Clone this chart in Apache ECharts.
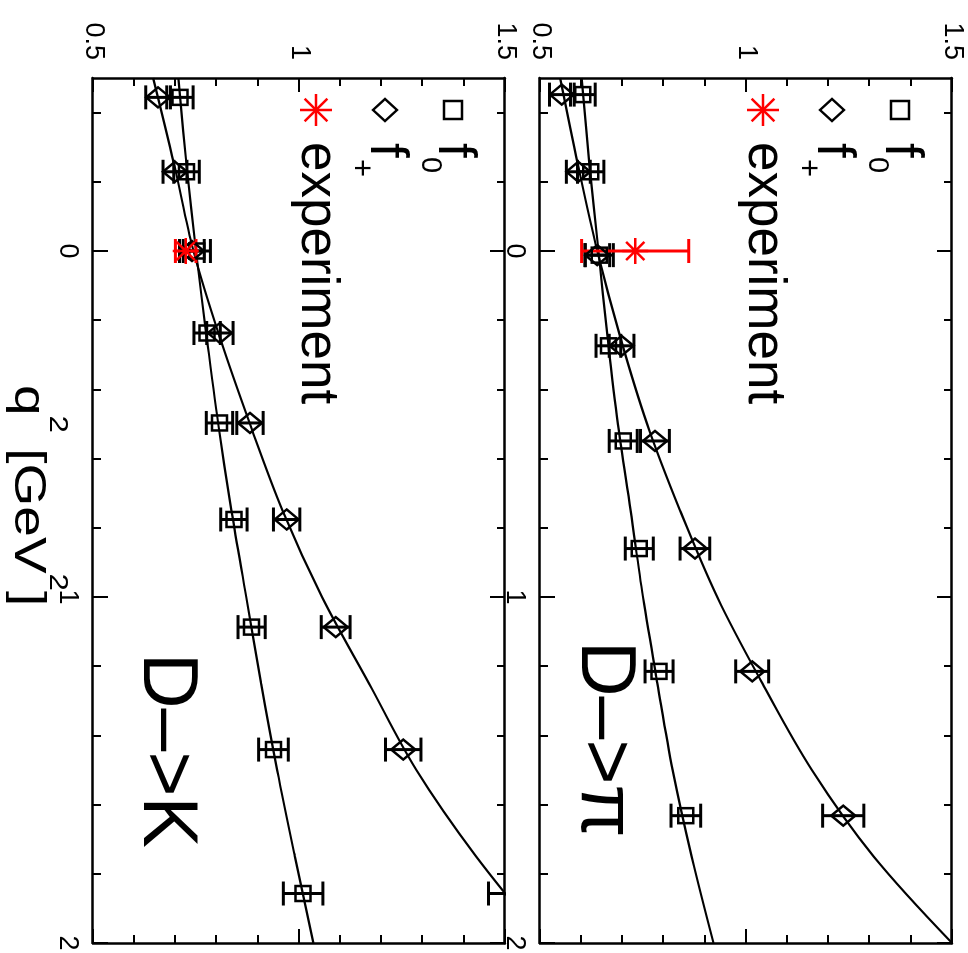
<!DOCTYPE html>
<html>
<head>
<meta charset="utf-8">
<script src="https://cdn.jsdelivr.net/npm/echarts@6/dist/echarts.min.js"></script>
<style>
  html, body { margin: 0; padding: 0; background: #fff; overflow: hidden; }
  /* the figure is a landscape page, turned a quarter clockwise */
  #chart {
    position: absolute; left: 0; top: 0;
    width: 953px; height: 968px;
    transform-origin: 0 0;
    transform: translate(968px, 0) rotate(90deg);
  }
</style>
</head>
<body>
<div id="chart"></div>
<script>
// ---- D -> pi (q^2 in GeV^2) ----
const qPi = [-0.452, -0.229, 0.012, 0.274, 0.549, 0.860, 1.215, 1.632];
const f0Pi = [0.604, 0.623, 0.644, 0.666, 0.702, 0.741, 0.789, 0.854];
const f0PiErr = [0.030, 0.032, 0.034, 0.030, 0.034, 0.034, 0.034, 0.036];
const fpPi = [0.553, 0.593, 0.639, 0.698, 0.779, 0.876, 1.015, 1.236];
const fpPiErr = [0.030, 0.029, 0.030, 0.030, 0.035, 0.036, 0.040, 0.050];
const expPi = [0.731];
const expPiErr = [0.130];

// ---- D -> K ----
const qK = [-0.444, -0.229, 0.0, 0.237, 0.497, 0.776, 1.087, 1.441, 1.857];
const f0K = [0.711, 0.727, 0.752, 0.777, 0.807, 0.842, 0.885, 0.938, 1.010];
const f0KErr = [0.032, 0.031, 0.033, 0.032, 0.032, 0.032, 0.033, 0.036, 0.048];
const fpK = [0.658, 0.699, 0.740, 0.808, 0.881, 0.970, 1.089, 1.253, 1.520];
const fpKErr = [0.030, 0.029, 0.030, 0.032, 0.032, 0.032, 0.035, 0.043, 0.060];
const expK = [0.725];
const expKErr = [0.025];

const qExp = [0];

const qCurve = [-0.5, -0.25, 0, 0.25, 0.5, 0.75, 1.0, 1.25, 1.5, 1.75, 2.0];
const f0PiCurve = [0.601, 0.620, 0.642, 0.664, 0.689, 0.720, 0.750, 0.785, 0.822, 0.868, 0.921];
const fpPiCurve = [0.549, 0.592, 0.639, 0.695, 0.760, 0.840, 0.930, 1.040, 1.160, 1.310, 1.500];
const f0KCurve = [0.707, 0.727, 0.750, 0.776, 0.804, 0.836, 0.872, 0.908, 0.947, 0.990, 1.035];
const fpKCurve = [0.646, 0.697, 0.744, 0.808, 0.881, 0.960, 1.056, 1.170, 1.285, 1.430, 1.600];

// axis ticks
const qTicks = [-0.4, -0.2, 0, 0.2, 0.4, 0.6, 0.8, 1, 1.2, 1.4, 1.6, 1.8, 2];
const qLabels = [0, 1, 2];

const FONT = "'Liberation Sans', Arial, Helvetica, sans-serif";
const BLACK = '#000';
const RED = '#ff0000';
const LW = 2.5;
const panelTops = [16, 463];
const GRID_LEFT = 78;

const ASTERISK = 'path://M10 0L10 20M0 10L20 10M3 3L17 17M3 17L17 3';

const chart = echarts.init(document.getElementById('chart'));

function qAxes(g) {
  const base = {
    gridIndex: g, type: 'value', min: -0.5, max: 2,
    splitLine: { show: false }
  };
  const tick = (vals, len) => ({
    show: true, inside: true, length: len, customValues: vals,
    lineStyle: { color: BLACK, width: 2 }
  });
  const axisLine = { show: true, onZero: false, lineStyle: { color: BLACK, width: LW } };
  return [
    {
      ...base, position: 'bottom', axisLine, axisTick: tick(qTicks, 8),
      axisLabel: {
        show: true, customValues: qLabels, color: BLACK,
        fontSize: 27, fontFamily: FONT, margin: 12
      }
    },
    { ...base, position: 'bottom', axisLine: { show: false }, axisTick: tick(qLabels, 15), axisLabel: { show: false } },
    { ...base, position: 'top', axisLine, axisTick: tick(qTicks, 8), axisLabel: { show: false } },
    { ...base, position: 'top', axisLine: { show: false }, axisTick: tick(qLabels, 15), axisLabel: { show: false } }
  ];
}

function fAxes(g) {
  const lineStyle = { color: BLACK, width: 2 };
  const base = {
    gridIndex: g, type: 'value', min: 0.5, max: 1.5, interval: 0.5,
    splitLine: { show: false },
    axisLine: { show: true, onZero: false, lineStyle: { color: BLACK, width: LW } },
    axisTick: { show: true, inside: true, length: 14, lineStyle },
    minorTick: { show: true, splitNumber: 5, length: 8, lineStyle },
    minorSplitLine: { show: false }
  };
  return [
    {
      ...base, position: 'left',
      axisLabel: { show: true, color: BLACK, fontSize: 27, fontFamily: FONT, margin: 18 }
    },
    { ...base, position: 'right', axisLabel: { show: false } }
  ];
}

function errorBars(g, q, f, err, color) {
  return {
    type: 'custom',
    xAxisIndex: g * 4, yAxisIndex: g * 2,
    clip: true,
    z: 3,
    data: q.map((x, i) => [x, f[i] - err[i], f[i] + err[i]]),
    encode: { x: 0, y: [1, 2] },
    renderItem(params, api) {
      const lo = api.coord([api.value(0), api.value(1)]);
      const hi = api.coord([api.value(0), api.value(2)]);
      const w = 12;
      const style = { stroke: color, lineWidth: 3, fill: 'none' };
      return {
        type: 'group',
        children: [
          { type: 'line', shape: { x1: lo[0], y1: lo[1], x2: hi[0], y2: hi[1] }, style },
          { type: 'line', shape: { x1: lo[0] - w, y1: lo[1], x2: lo[0] + w, y2: lo[1] }, style },
          { type: 'line', shape: { x1: hi[0] - w, y1: hi[1], x2: hi[0] + w, y2: hi[1] }, style }
        ]
      };
    }
  };
}

function curve(g, q, f) {
  return {
    type: 'line', xAxisIndex: g * 4, yAxisIndex: g * 2,
    data: q.map((x, i) => [x, f[i]]),
    smooth: 0.35, showSymbol: false, symbol: 'none', clip: true,
    lineStyle: { color: BLACK, width: 2.2 }, z: 2
  };
}

function points(g, q, f, symbol, size, color) {
  return {
    type: 'scatter', xAxisIndex: g * 4, yAxisIndex: g * 2,
    data: q.map((x, i) => [x, f[i]]),
    symbol, symbolSize: size, clip: true, z: 4,
    itemStyle: { color: 'rgba(0,0,0,0)', borderColor: color, borderWidth: LW, opacity: 1 }
  };
}

function panelSeries(g, d) {
  return [
    curve(g, qCurve, d.f0Curve),
    curve(g, qCurve, d.fpCurve),
    errorBars(g, d.q, d.f0, d.f0Err, BLACK),
    errorBars(g, d.q, d.fp, d.fpErr, BLACK),
    points(g, d.q, d.f0, 'rect', 15, BLACK),
    points(g, d.q, d.fp, 'diamond', [20, 24], BLACK),
    errorBars(g, qExp, d.exp, d.expErr, RED),
    points(g, qExp, d.exp, ASTERISK, 26, RED)
  ];
}

function txt(x, y, text, size, color) {
  return {
    type: 'text', x, y, silent: true,
    style: {
      text, fill: color || BLACK, font: size + 'px ' + FONT,
      align: 'left', textAlign: 'left', verticalAlign: 'middle', textVerticalAlign: 'middle'
    }
  };
}

function seg(x1, y1, x2, y2, color) {
  return { type: 'line', silent: true, shape: { x1, y1, x2, y2 }, style: { stroke: color, lineWidth: LW } };
}

// key in the upper left corner of a panel
function legendItems(T) {
  const mx = 110;
  const items = [];
  // f_0, open square
  items.push({ type: 'rect', silent: true, shape: { x: mx - 9, y: T + 52 - 9, width: 18, height: 18 },
    style: { fill: 'none', stroke: BLACK, lineWidth: LW } });
  items.push(txt(143, T + 51, 'f', 53));
  items.push(txt(157, T + 75, '0', 29));
  // f_+, open diamond
  const dy = T + 120;
  items.push({ type: 'polygon', silent: true, shape: { points: [[mx, dy - 12], [mx + 11, dy], [mx, dy + 12], [mx - 11, dy]] },
    style: { fill: 'none', stroke: BLACK, lineWidth: LW } });
  items.push(txt(143, T + 119, 'f', 53));
  items.push(txt(159, T + 144, '+', 31));
  // experiment, red star
  const ay = T + 189, r = 16, s = 11.3;
  items.push(seg(mx, ay - r, mx, ay + r, RED), seg(mx - r, ay, mx + r, ay, RED),
    seg(mx - s, ay - s, mx + s, ay + s, RED), seg(mx - s, ay + s, mx + s, ay - s, RED));
  items.push(txt(142, T + 188, 'experiment', 53));
  return items;
}

const graphic = [
  ...legendItems(panelTops[0]),
  ...legendItems(panelTops[1]),
  txt(641, panelTops[0] + 349, 'D\u2013>\u03c0', 77),
  txt(653, panelTops[1] + 340, 'D\u2013>K', 77),
  {
    type: 'text', x: 385, y: 899, scaleX: 1.25, silent: true,
    style: {
      text: '{m|q}{s|2}{m| [GeV}{s|2}{m|]}',
      fill: BLACK, font: '44px ' + FONT,
      align: 'left', textAlign: 'left', verticalAlign: 'top', textVerticalAlign: 'top',
      rich: {
        m: { fontSize: 44, fontFamily: FONT, fill: BLACK, color: BLACK, verticalAlign: 'bottom' },
        s: { fontSize: 25, fontFamily: FONT, fill: BLACK, color: BLACK, verticalAlign: 'top', lineHeight: 64 }
      }
    }
  }
];

chart.setOption({
  animation: false,
  textStyle: { fontFamily: FONT, color: BLACK },
  grid: panelTops.map((t) => ({
    left: GRID_LEFT, top: t, width: 865, height: 412,
    containLabel: false, outerBoundsMode: 'none'
  })),
  xAxis: [...qAxes(0), ...qAxes(1)],
  yAxis: [...fAxes(0), ...fAxes(1)],
  series: [
    ...panelSeries(0, {
      q: qPi, f0: f0Pi, f0Err: f0PiErr, fp: fpPi, fpErr: fpPiErr,
      exp: expPi, expErr: expPiErr, f0Curve: f0PiCurve, fpCurve: fpPiCurve
    }),
    ...panelSeries(1, {
      q: qK, f0: f0K, f0Err: f0KErr, fp: fpK, fpErr: fpKErr,
      exp: expK, expErr: expKErr, f0Curve: f0KCurve, fpCurve: fpKCurve
    })
  ],
  graphic
});
</script>
</body>
</html>
